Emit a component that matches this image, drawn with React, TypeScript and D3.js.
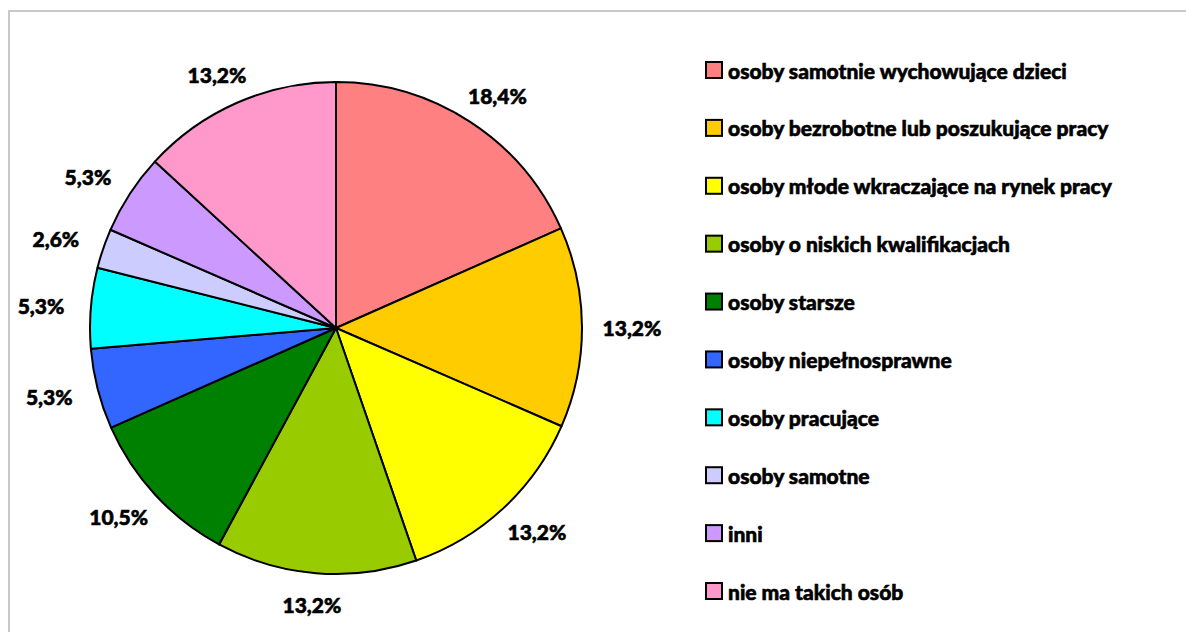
import React from "react";
import * as d3 from "d3";

const categories = [
  "osoby samotnie wychowujące dzieci",
  "osoby bezrobotne lub poszukujące pracy",
  "osoby młode wkraczające na rynek pracy",
  "osoby o niskich kwalifikacjach",
  "osoby starsze",
  "osoby niepełnosprawne",
  "osoby pracujące",
  "osoby samotne",
  "inni",
  "nie ma takich osób",
];
const values = [18.4, 13.2, 13.2, 13.2, 10.5, 5.3, 5.3, 2.6, 5.3, 13.2];
const colors = [
  "#FF8080",
  "#FFCC00",
  "#FFFF00",
  "#99CC00",
  "#008000",
  "#3366FF",
  "#00FFFF",
  "#CCCCFF",
  "#CC99FF",
  "#FF99CC",
];

const W = 1186;
const H = 632;
const cx = 336;
const cy = 328;
const R = 246;
const font = "Lato, 'Open Sans', sans-serif";

export default function App() {
  const pie = d3.pie<number>().sort(null).value((d) => d);
  const arcs = pie(values);
  const arc = d3.arc<d3.PieArcDatum<number>>().innerRadius(0).outerRadius(R);
  const fmt = (v: number) => v.toFixed(1).replace(".", ",") + "%";

  const legendY = d3
    .scalePoint<number>()
    .domain(d3.range(categories.length))
    .range([70, 591]);

  const textStyle = {
    fontSize: 21,
    fontWeight: 900,
    fill: "#000",
    stroke: "#000",
    strokeWidth: 0.6,
  } as const;

  return (
    <svg
      width={W}
      height={H}
      style={{ position: "absolute", left: 0, top: 0, fontFamily: font }}
    >
      <rect x={0} y={0} width={W} height={H} fill="#fff" />
      <rect
        x={9}
        y={11}
        width={W + 10}
        height={H + 10}
        fill="none"
        stroke="#c8c8c8"
        strokeWidth={2}
      />
      <g transform={`translate(${cx},${cy})`}>
        {arcs.map((a, i) => (
          <path
            key={i}
            d={arc(a) || ""}
            fill={colors[i]}
            stroke="#000"
            strokeWidth={2}
            strokeLinejoin="round"
          />
        ))}
        {arcs.map((a, i) => {
          const mid = (a.startAngle + a.endAngle) / 2;
          const sx = Math.sin(mid);
          const sy = -Math.cos(mid);
          const x = sx * R + sx * (34 + 16);
          const y = sy * R + sy * (11 + 20);
          return (
            <text
              key={i}
              x={x}
              y={y}
              textAnchor="middle"
              dominantBaseline="central"
              style={textStyle}
            >
              {fmt(values[i])}
            </text>
          );
        })}
      </g>
      <g>
        {categories.map((c, i) => {
          const y = legendY(i) as number;
          return (
            <g key={i}>
              <rect
                x={706}
                y={y - 8}
                width={16}
                height={16}
                fill={colors[i]}
                stroke="#000"
                strokeWidth={2}
              />
              <text x={728} y={y} dominantBaseline="central" style={textStyle}>
                {c}
              </text>
            </g>
          );
        })}
      </g>
    </svg>
  );
}
